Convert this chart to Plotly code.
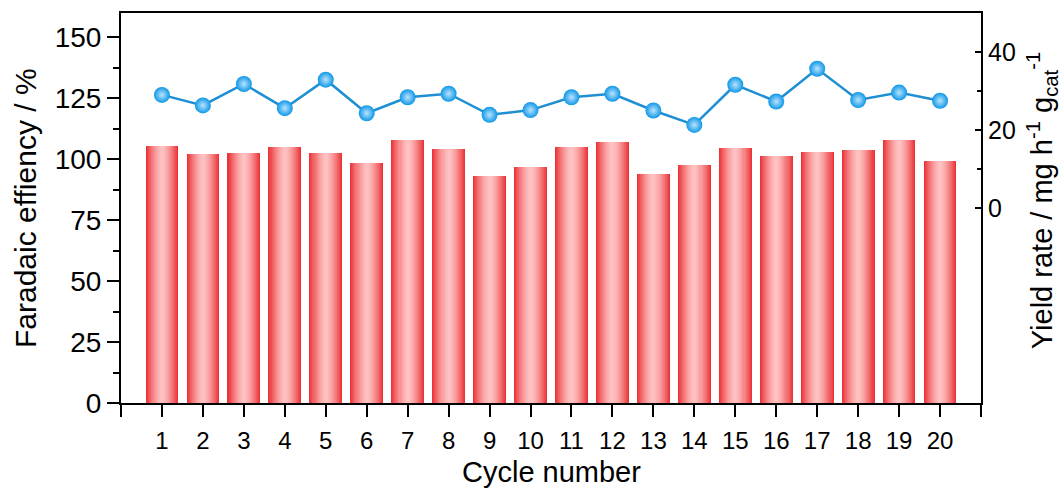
import plotly.graph_objects as go

cycles = list(range(1, 21))
faradaic_eff = [105.3, 102.3, 102.7, 105.0, 102.7, 98.3, 108.0, 104.4, 93.1, 96.9,
                104.9, 107.1, 94.0, 97.7, 104.6, 101.2, 103.0, 103.8, 107.9, 99.4]
yield_rate = [29.0, 26.3, 31.8, 25.6, 32.9, 24.3, 28.4, 29.3, 23.9, 25.1,
              28.4, 29.3, 25.0, 21.3, 31.6, 27.3, 35.7, 27.7, 29.6, 27.5]
x_tickvals = list(range(0, 22))
x_ticktext = [""] + [str(c) for c in cycles] + [""]
left_ticks = [0, 25, 50, 75, 100, 125, 150]
right_ticks = [0, 20, 40]

FONT = "Liberation Sans, Arial, sans-serif"

fig = go.Figure()

# gradient bars: overlay of narrowing layers
edge = (234, 52, 56)
center = (255, 196, 196)
N = 16
full_w = 0.8
for k in range(N):
    t = 1 - k / N
    f = t ** 1.5
    col = tuple(int(round(center[i] + (edge[i] - center[i]) * f)) for i in range(3))
    fig.add_trace(go.Bar(
        x=cycles, y=faradaic_eff, width=full_w * t,
        marker=dict(color="rgb(%d,%d,%d)" % col, line=dict(width=0)),
        showlegend=False, hoverinfo="skip" if k else None,
    ))

fig.add_trace(go.Scatter(
    x=cycles, y=yield_rate, yaxis="y2", mode="lines+markers",
    line=dict(color="#1f8fd3", width=2.5),
    marker=dict(size=16, color="#0f97e6",
                gradient=dict(type="radial", color="#b8e4ff"),
                line=dict(width=0)),
    showlegend=False,
))

fig.update_layout(
    width=1064, height=488,
    margin=dict(l=121, r=83, t=13, b=85),
    paper_bgcolor="white", plot_bgcolor="white",
    barmode="overlay", bargap=0,
    font=dict(family=FONT, color="black"),
    xaxis=dict(range=[0, 21], tickmode="array", tickvals=x_tickvals, ticktext=x_ticktext,
               ticks="outside", ticklen=12, tickwidth=2, tickcolor="black",
               showline=True, linewidth=2, linecolor="black", mirror=True,
               showgrid=False, zeroline=False, tickfont=dict(size=24),
               ticklabelstandoff=3, automargin=False),
    yaxis=dict(range=[0, 160], tickmode="array", tickvals=left_ticks,
               ticks="outside", ticklen=12, tickwidth=2, tickcolor="black",
               minor=dict(dtick=12.5, tick0=0, ticks="outside", ticklen=6,
                          tickwidth=2, tickcolor="black", showgrid=False),
               showline=True, linewidth=2, linecolor="black",
               showgrid=False, zeroline=False, tickfont=dict(size=28),
               automargin=False),
    yaxis2=dict(range=[-50, 50], overlaying="y", side="right", tickmode="array",
                tickvals=right_ticks, ticks="inside", ticklen=6, tickwidth=2,
                tickcolor="black",
                minor=dict(tickmode="array", tickvals=[10, 30], ticks="inside",
                           ticklen=4, tickwidth=2, tickcolor="black", showgrid=False),
                showline=True, linewidth=2, linecolor="black",
                showgrid=False, zeroline=False, tickfont=dict(size=25),
                automargin=False),
    annotations=[
        dict(text="Faradaic effiency / %", xref="paper", yref="paper",
             x=-0.1116, y=0.5, xanchor="center", yanchor="middle", textangle=-90,
             showarrow=False, font=dict(size=30, family=FONT, color="black")),
        dict(text="Yield rate / mg h<sup>-1</sup> g<sub>cat</sub><sup>-1</sup>",
             xref="paper", yref="paper", x=1.0709, y=0.52,
             xanchor="center", yanchor="middle", textangle=-90,
             showarrow=False, font=dict(size=29, family=FONT, color="black")),
        dict(text="Cycle number", xref="paper", yref="paper",
             x=0.5, y=-0.177, xanchor="center", yanchor="middle",
             showarrow=False, font=dict(size=29, family=FONT, color="black")),
    ],
)

fig.write_html("out.html", config={"displayModeBar": False})

# remove the browser's default page margin so the figure fills the window
with open("out.html", "r", encoding="utf-8") as fh:
    html = fh.read()
html = html.replace("<head>", "<head><style>html,body{margin:0;padding:0;overflow:hidden;}</style>", 1)
with open("out.html", "w", encoding="utf-8") as fh:
    fh.write(html)
